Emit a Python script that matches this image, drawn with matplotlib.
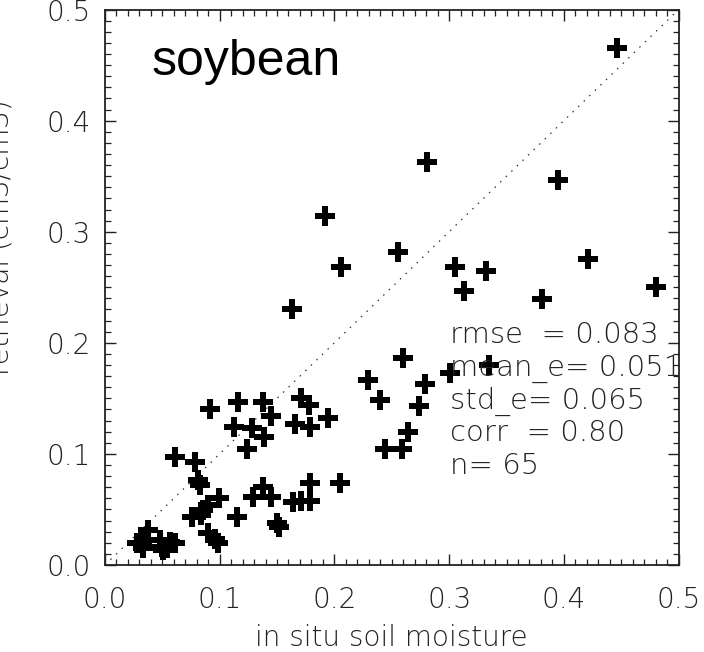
import matplotlib
matplotlib.use('Agg')
import matplotlib.pyplot as plt
import numpy as np
from matplotlib.ticker import MultipleLocator

plt.rcParams['font.family'] = ['DejaVu Sans']

# in situ soil moisture (x) vs retrieval (y)
insitu = [0.446, 0.281, 0.395, 0.192, 0.255, 0.421, 0.206, 0.305, 0.332, 0.480,
          0.313, 0.381, 0.163, 0.260, 0.335, 0.3005, 0.229, 0.279, 0.171, 0.2395,
          0.138, 0.1156, 0.178, 0.274, 0.0915, 0.145, 0.1945, 0.166, 0.179, 0.1127,
          0.128, 0.264, 0.1385, 0.124, 0.244, 0.259, 0.061, 0.0784, 0.0813, 0.0828,
          0.205, 0.1786, 0.1374, 0.129, 0.145, 0.0996, 0.164, 0.171, 0.179, 0.090,
          0.0857, 0.084, 0.0755, 0.1147, 0.1496, 0.152, 0.090, 0.0958, 0.0987, 0.0378,
          0.032, 0.0276, 0.0334, 0.0479, 0.0494, 0.0566, 0.061, 0.0537, 0.0508]
retrieval = [0.465, 0.363, 0.347, 0.314, 0.282, 0.275, 0.268, 0.268, 0.265, 0.250,
             0.247, 0.239, 0.230, 0.186, 0.180, 0.173, 0.1665, 0.163, 0.150, 0.1485,
             0.1464, 0.1464, 0.144, 0.143, 0.140, 0.134, 0.132, 0.127, 0.1245, 0.1245,
             0.123, 0.120, 0.1155, 0.104, 0.104, 0.104, 0.0975, 0.093, 0.0765, 0.072,
             0.0735, 0.0735, 0.0705, 0.0615, 0.0615, 0.060, 0.057, 0.058, 0.058, 0.054,
             0.0495, 0.045, 0.0435, 0.0435, 0.0375, 0.034, 0.0285, 0.023, 0.020, 0.0315,
             0.0195, 0.0195, 0.015, 0.0225, 0.0165, 0.021, 0.020, 0.015, 0.0135]

stats_lines = ['rmse  = 0.083', 'mean_e= 0.051', 'std_e= 0.065', 'corr  = 0.80', 'n= 65']
crop_name = 'soybean'

fig = plt.figure(figsize=(7.04, 6.52), dpi=100)
ax = fig.add_axes([0.149, 0.1334, 0.815, 0.852])

ax.plot([0, 0.5], [0, 0.5], linestyle=(0, (1.2, 5)), color='#333333', lw=0.9)
ax.plot(insitu, retrieval, linestyle='none', marker='P', ms=14,
        color='black', mec='black', mew=0)

ax.set_xlim(0, 0.5)
ax.set_ylim(0, 0.5)
ax.xaxis.set_major_locator(MultipleLocator(0.1))
ax.yaxis.set_major_locator(MultipleLocator(0.1))
ax.xaxis.set_minor_locator(MultipleLocator(0.01))
ax.yaxis.set_minor_locator(MultipleLocator(0.01))
ax.tick_params(which='both', direction='in', top=True, right=True, colors='#222222')
ax.tick_params(which='major', length=8, width=1.0, labelsize=20)
ax.tick_params(which='minor', length=4, width=0.9)
ax.tick_params(axis='x', which='major', pad=15)
ax.tick_params(axis='y', which='major', pad=10)
ax.xaxis.set_major_formatter(plt.FormatStrFormatter('%.1f'))
ax.yaxis.set_major_formatter(plt.FormatStrFormatter('%.1f'))
for lab in ax.get_xticklabels() + ax.get_yticklabels():
    lab.set_fontweight('ultralight')
for s in ax.spines.values():
    s.set_linewidth(1.3)
    s.set_color('#222222')

ax.set_xlabel('in situ soil moisture', fontsize=20, fontweight='ultralight',
              color='#222222', labelpad=7)
# label runs off the left edge, same as the original figure
fig.text(0.021, 0.636, 'retrieval (cm3/cm3)', rotation=90, ha='right', va='center',
         fontsize=20, fontweight='ultralight', color='#222222')

ax.text(0.041, 0.441, crop_name, fontsize=36, family='Liberation Sans', color='black')

y0 = 0.200
for i, line in enumerate(stats_lines):
    ax.text(0.3005, y0 - i * 0.0295, line, fontsize=21, fontweight='ultralight',
            color='#222222', clip_on=True)

fig.savefig('out.png', dpi=100)
